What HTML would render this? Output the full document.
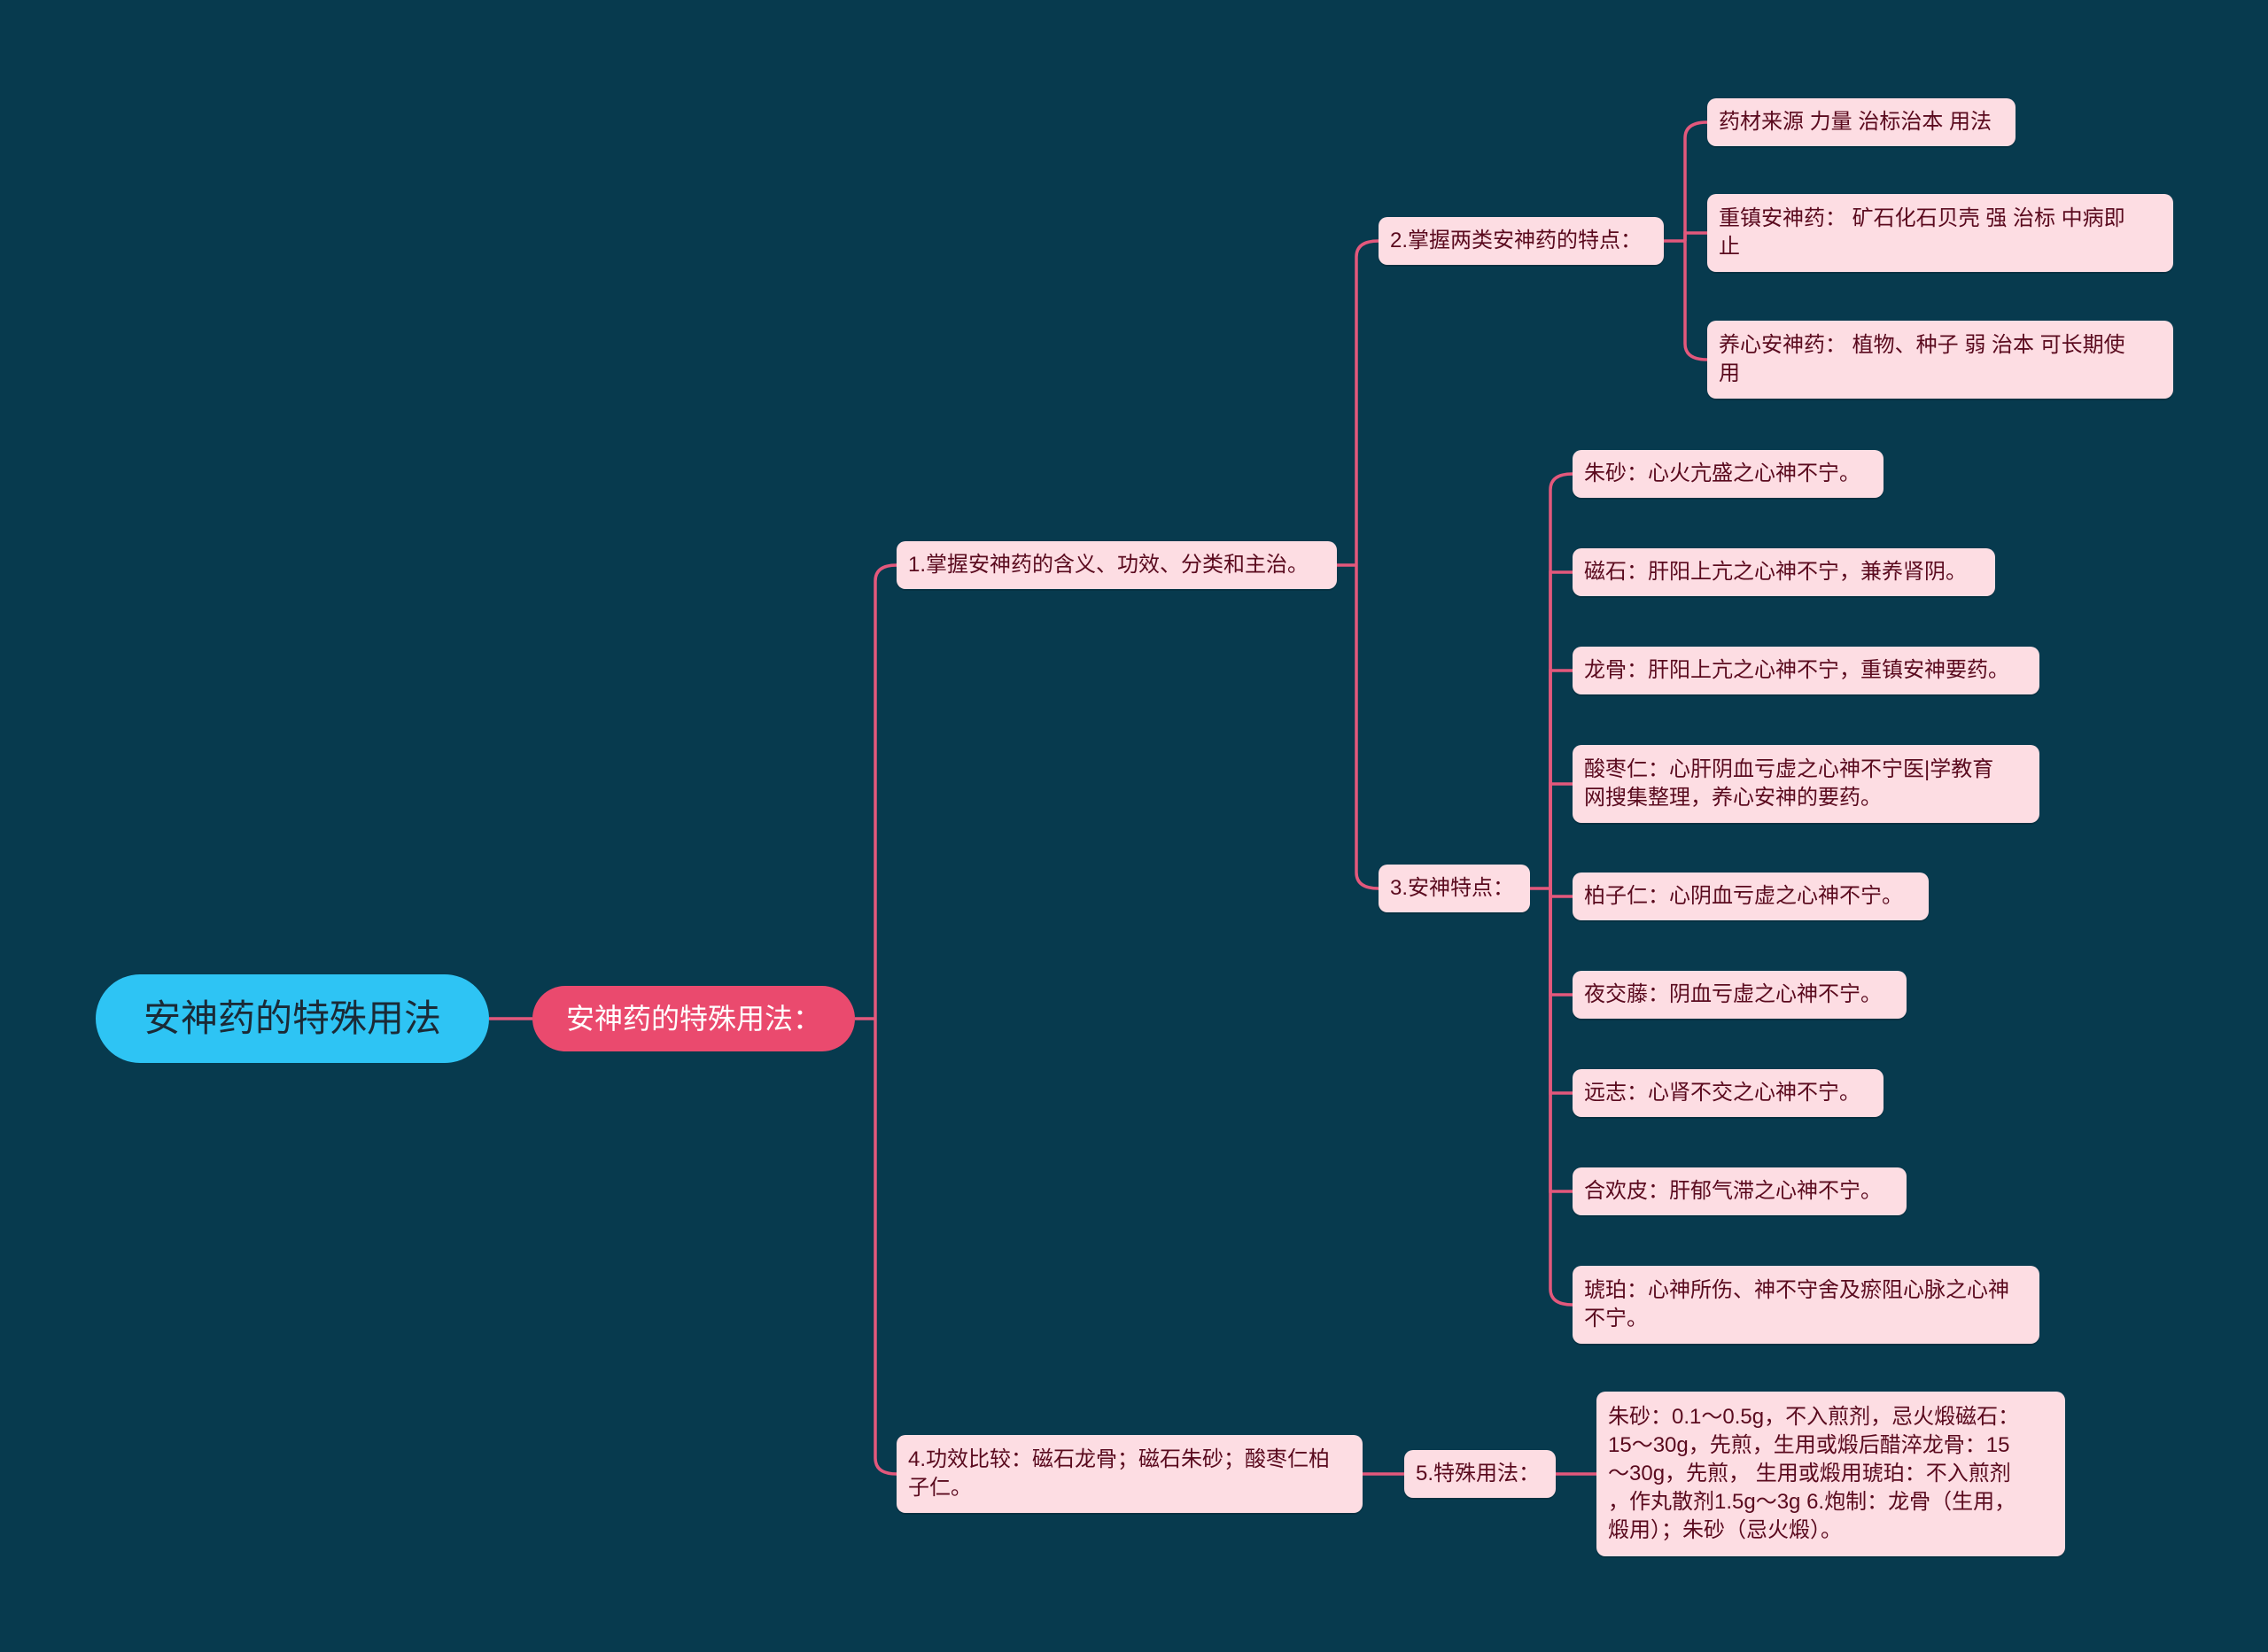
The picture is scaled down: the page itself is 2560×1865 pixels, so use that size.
<!DOCTYPE html>
<html><head><meta charset="utf-8"><style>
body{margin:0;width:2560px;height:1865px;background:#073a4e;position:relative;overflow:hidden;font-family:"Liberation Sans","Noto Sans CJK SC",sans-serif}
.n{position:absolute;box-sizing:border-box;background:#fddde3;color:#5a0a1e;border-radius:10px;font-size:24px;line-height:32px;padding:0 13px;display:flex;align-items:center;box-shadow:0 2px 0 rgba(0,0,0,.15);white-space:nowrap}
svg{position:absolute;left:0;top:0}
</style></head><body>
<svg width="2560" height="1865" fill="none" stroke="#e3587c" stroke-width="3.5">
<path d="M552 1150H601"/>
<path d="M965 1150H988"/>
<path d="M988 1150V656Q988 638 1012 638"/>
<path d="M988 1150V1646Q988 1664 1012 1664"/>
<path d="M1509 638H1531"/>
<path d="M1531 638V290Q1531 272 1556 272"/>
<path d="M1531 638V985Q1531 1003 1556 1003"/>
<path d="M1878 272H1902"/>
<path d="M1902 272V156Q1902 138 1927 138"/>
<path d="M1902 272V263H1927"/>
<path d="M1902 272V388Q1902 406 1927 406"/>
<path d="M1727 1003H1750"/>
<path d="M1750 1003V553Q1750 535 1775 535"/>
<path d="M1750 1003V646H1775"/>
<path d="M1750 1003V757H1775"/>
<path d="M1750 1003V885H1775"/>
<path d="M1750 1003V1012H1775"/>
<path d="M1750 1003V1123H1775"/>
<path d="M1750 1003V1234H1775"/>
<path d="M1750 1003V1345H1775"/>
<path d="M1750 1003V1455Q1750 1473 1775 1473"/>
<path d="M1538 1664H1585"/>
<path d="M1756 1664H1802"/>
</svg>
<div class="n" style="left:108px;top:1100px;width:444px;height:100px;border-radius:50px;background:#2ec4f4;color:#1b2a36;font-size:42px;justify-content:center;box-shadow:none">安神药的特殊用法</div>
<div class="n" style="left:601px;top:1113px;width:364px;height:74px;border-radius:37px;background:#ea4a6e;color:#fff;font-size:32px;justify-content:center;box-shadow:none">安神药的特殊用法：</div>
<div class="n" style="left:1012px;top:611px;width:497px;height:54px">1.掌握安神药的含义、功效、分类和主治。</div>
<div class="n" style="left:1012px;top:1620px;width:526px;height:88px">4.功效比较：磁石龙骨；磁石朱砂；酸枣仁柏<br>子仁。</div>
<div class="n" style="left:1556px;top:245px;width:322px;height:54px">2.掌握两类安神药的特点：</div>
<div class="n" style="left:1556px;top:976px;width:171px;height:54px">3.安神特点：</div>
<div class="n" style="left:1927px;top:111px;width:348px;height:54px">药材来源 力量 治标治本 用法</div>
<div class="n" style="left:1927px;top:219px;width:526px;height:88px">重镇安神药：&nbsp;矿石化石贝壳 强 治标 中病即<br>止</div>
<div class="n" style="left:1927px;top:362px;width:526px;height:88px">养心安神药：&nbsp;植物、种子 弱 治本 可长期使<br>用</div>
<div class="n" style="left:1775px;top:508px;width:351px;height:54px">朱砂：心火亢盛之心神不宁。</div>
<div class="n" style="left:1775px;top:619px;width:477px;height:54px">磁石：肝阳上亢之心神不宁，兼养肾阴。</div>
<div class="n" style="left:1775px;top:730px;width:527px;height:54px">龙骨：肝阳上亢之心神不宁，重镇安神要药。</div>
<div class="n" style="left:1775px;top:841px;width:527px;height:88px">酸枣仁：心肝阴血亏虚之心神不宁医|学教育<br>网搜集整理，养心安神的要药。</div>
<div class="n" style="left:1775px;top:985px;width:402px;height:54px">柏子仁：心阴血亏虚之心神不宁。</div>
<div class="n" style="left:1775px;top:1096px;width:377px;height:54px">夜交藤：阴血亏虚之心神不宁。</div>
<div class="n" style="left:1775px;top:1207px;width:351px;height:54px">远志：心肾不交之心神不宁。</div>
<div class="n" style="left:1775px;top:1318px;width:377px;height:54px">合欢皮：肝郁气滞之心神不宁。</div>
<div class="n" style="left:1775px;top:1429px;width:527px;height:88px">琥珀：心神所伤、神不守舍及瘀阻心脉之心神<br>不宁。</div>
<div class="n" style="left:1585px;top:1637px;width:171px;height:54px">5.特殊用法：</div>
<div class="n" style="left:1802px;top:1571px;width:529px;height:186px">朱砂：0.1～0.5g，不入煎剂，忌火煅磁石：<br>15～30g，先煎，生用或煅后醋淬龙骨：15<br>～30g，先煎，&nbsp;生用或煅用琥珀：不入煎剂<br>，作丸散剂1.5g～3g 6.炮制：龙骨（生用，<br>煅用）；朱砂（忌火煅）。</div>
</body></html>
